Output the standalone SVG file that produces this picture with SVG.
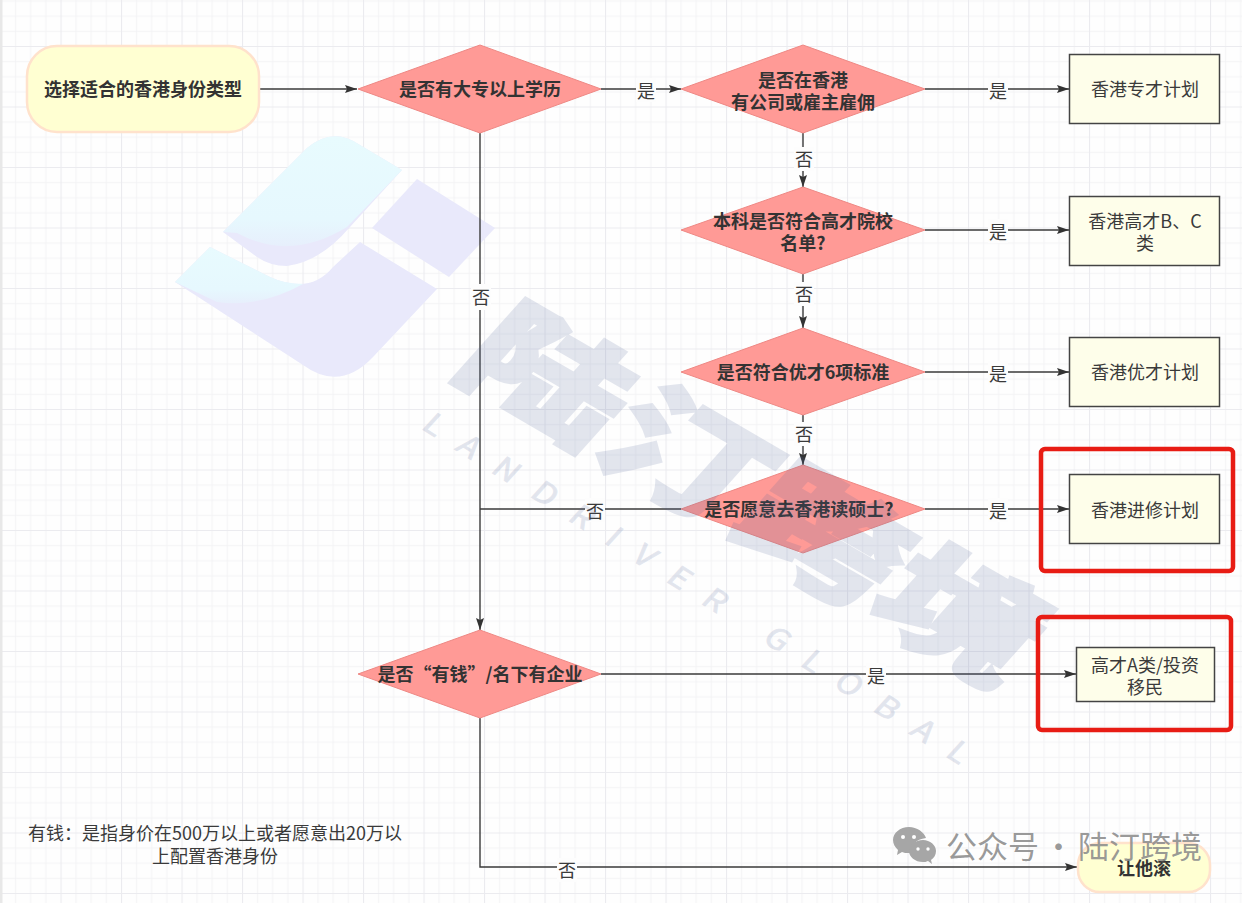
<svg xmlns="http://www.w3.org/2000/svg" width="1242" height="903" viewBox="0 0 1242 903">
<style>
text{font-family:"Noto Sans CJK SC","Noto Sans",sans-serif;font-size:18px;fill:#3a3a3a;text-anchor:middle}
.b{font-weight:700;fill:#333}
.line{fill:none;stroke:#3a3a3a;stroke-width:1.4}
.arrow{marker-end:url(#ah)}
.lb{fill:#fdfdfd}
.dia{fill:#ff9a96;stroke:#ee8884;stroke-width:1}
.term{fill:#ffffd2;stroke:#ffe2cc;stroke-width:2.5}
.box{fill:#fefeea;stroke:#444;stroke-width:1.5}
.hl{fill:none;stroke:#e81c14;stroke-width:4.5}
.cy{fill:url(#fade)}.la{fill:#e9e9fb}
.wm{fill:#54689c;stroke:#54689c;stroke-width:5;opacity:.16;font-weight:900;font-size:160px;text-anchor:start}
.wl{fill:#54689c;stroke:#54689c;stroke-width:.8;opacity:.16;font-size:33px;letter-spacing:22px;text-anchor:start}
.pub{fill:#8c8c8c;fill-opacity:.9;font-size:31px;word-spacing:-3px;text-anchor:start}
.wc{fill:#a6a6a6}
</style>
<defs>
<pattern id="grid" width="60.5" height="60.5" patternUnits="userSpaceOnUse" patternTransform="translate(0 46)">
<path d="M15.6 0V60.5M30.7 0V60.5M45.8 0V60.5M0 15.6H60.5M0 30.7H60.5M0 45.8H60.5" fill="none" stroke="#f3f3f5" stroke-width="1"/>
<path d="M.5 0V60.5M0 .5H60.5" fill="none" stroke="#ebebef" stroke-width="1.2"/>
</pattern>
<linearGradient id="fade" x1="0" y1="0" x2="0" y2="1">
<stop offset="0" stop-color="#e8fbfe"/><stop offset=".75" stop-color="#e6f8fe"/><stop offset="1" stop-color="#e7effc"/>
</linearGradient>
<marker id="ah" markerUnits="userSpaceOnUse" markerWidth="13" markerHeight="10" refX="12" refY="4.5" orient="auto">
<path d="M0 .5L12 4.5L0 8.5L2 4.5Z" fill="#333"/>
</marker>
</defs>
<rect width="1242" height="903" fill="#fefefe"/>
<rect width="1242" height="903" fill="url(#grid)"/>
<rect width="2.5" height="903" fill="#e8e8e8"/>
<g id="logo">
<path class="la" d="M223 232L307 148Q333 126 360 145L402 170L350 227Q320 262 287 266Q270 266 257 257Z"/>
<path class="cy" d="M223 232L307 148Q333 126 360 145L402 170L347 227Q290 262 237 233Z"/>
<path class="la" d="M417 179L495 228L449 277L372 228Z"/>
<path class="la" d="M175 282L210 247L270 277Q310 295 333 267L360 242L437 289L373 357Q340 392 303 365Z"/>
<path class="cy" d="M175 282L210 247L270 277Q285 284 303 284Q260 308 217 302Z"/>
</g>
<g id="connectors">
<path class="line arrow" d="M260 89H357"/>
<path class="line arrow" d="M601 89H681"/>
<path class="line arrow" d="M925 89H1069"/>
<path class="line arrow" d="M925 230H1069"/>
<path class="line arrow" d="M925 372H1069"/>
<path class="line arrow" d="M925 509H1069"/>
<path class="line arrow" d="M601 674H1076"/>
<path class="line arrow" d="M803 133V187"/>
<path class="line arrow" d="M803 274V328"/>
<path class="line arrow" d="M803 415V465"/>
<path class="line arrow" d="M480 133V630"/>
<path class="line" d="M681 509H480"/>
<path class="line arrow" d="M480 718V867H1077"/>
<rect class="lb" x="636" y="78" width="20" height="24"/><text x="646" y="98">是</text>
<rect class="lb" x="988" y="78" width="20" height="24"/><text x="998" y="98">是</text>
<rect class="lb" x="988" y="219" width="20" height="24"/><text x="998" y="239">是</text>
<rect class="lb" x="988" y="361" width="20" height="24"/><text x="998" y="381">是</text>
<rect class="lb" x="988" y="498" width="20" height="24"/><text x="998" y="518">是</text>
<rect class="lb" x="866" y="663" width="20" height="24"/><text x="876" y="683">是</text>
<rect class="lb" x="794" y="147" width="20" height="24"/><text x="804" y="166">否</text>
<rect class="lb" x="794" y="282" width="20" height="24"/><text x="804" y="301">否</text>
<rect class="lb" x="794" y="422" width="20" height="24"/><text x="804" y="441">否</text>
<rect class="lb" x="471" y="284" width="20" height="26"/><text x="481" y="304">否</text>
<rect class="lb" x="585" y="498" width="20" height="24"/><text x="595" y="518">否</text>
<rect class="lb" x="557" y="858" width="20" height="24"/><text x="567" y="877">否</text>
</g>
<g id="start"><rect class="term" x="27" y="46" width="232" height="86" rx="30"/><text class="b" x="143" y="96">选择适合的香港身份类型</text></g>
<g id="d1"><path class="dia" d="M358 89L480 45L601 89L480 133Z"/><text class="b" x="480" y="96">是否有大专以上学历</text></g>
<g id="d2"><path class="dia" d="M681 89L803 45L925 89L803 133Z"/><text class="b" x="803" y="87">是否在香港</text><text class="b" x="803" y="109">有公司或雇主雇佣</text></g>
<g id="d3"><path class="dia" d="M681 230L803 187L925 230L803 274Z"/><text class="b" x="803" y="228">本科是否符合高才院校</text><text class="b" x="803" y="250">名单?</text></g>
<g id="d4"><path class="dia" d="M681 372L803 328L925 372L803 415Z"/><text class="b" x="803" y="379">是否符合优才6项标准</text></g>
<g id="d5"><path class="dia" d="M681 509L803 465L925 509L803 553Z"/><text class="b" x="799" y="516">是否愿意去香港读硕士?</text></g>
<g id="d6"><path class="dia" d="M358 674L480 630L601 674L480 718Z"/><text class="b" x="480" y="681">是否“有钱”/名下有企业</text></g>
<g id="b1"><rect class="box" x="1069.500" y="54.500" width="150" height="69"/><text x="1145" y="96">香港专才计划</text></g>
<g id="b2"><rect class="box" x="1069.500" y="196.500" width="150" height="69"/><text x="1145" y="228">香港高才B、C</text><text x="1145" y="250">类</text></g>
<g id="b3"><rect class="box" x="1069.500" y="337.500" width="150" height="69"/><text x="1145" y="379">香港优才计划</text></g>
<g id="b4"><rect class="box" x="1069.500" y="474.500" width="150" height="69"/><text x="1145" y="517">香港进修计划</text></g>
<g id="b5"><rect class="box" x="1076.500" y="647.500" width="138" height="54"/><text x="1145" y="672">高才A类/投资</text><text x="1145" y="694">移民</text></g>
<g id="end"><rect class="term" x="1078" y="843" width="132" height="49" rx="22"/><text class="b" x="1144" y="875">让他滚</text></g>
<g id="note"><text x="215" y="840">有钱：是指身价在500万以上或者愿意出20万以</text><text x="215" y="863">上配置香港身份</text></g>
<g id="watermark">
<text class="wm" transform="matrix(.86 .5 -.52 .58 450 370)">陆汀跨境</text>
<text class="wl" transform="matrix(.848 .53 -.62 .68 420 428)">LANDRIVER GLOBAL</text>
</g>
<g id="highlights">
<rect class="hl" x="1041" y="449" width="192" height="122" rx="4"/>
<rect class="hl" x="1038" y="617" width="193" height="113" rx="4"/>
</g>
<g id="publisher">
<path class="wc" d="M909 827c-9 0-16 6-16 13 0 4 2 7 5 10l-1 5 5-3c2 1 4 1 7 1h2c-1-7 5-14 15-15-2-6-9-11-17-11Z"/>
<path class="wc" d="M923 840c-8 0-14 5-14 11s6 11 14 11c2 0 3 0 5-1l4 3-1-4c3-2 5-5 5-9 0-6-6-11-13-11Z"/>
<circle cx="903" cy="837" r="2" fill="#fff"/><circle cx="914" cy="837" r="2" fill="#fff"/><circle cx="918" cy="849" r="1.700" fill="#fff"/><circle cx="928" cy="849" r="1.700" fill="#fff"/>
<text class="pub" x="946" y="858">公众号 · 陆汀跨境</text>
</g>
</svg>
